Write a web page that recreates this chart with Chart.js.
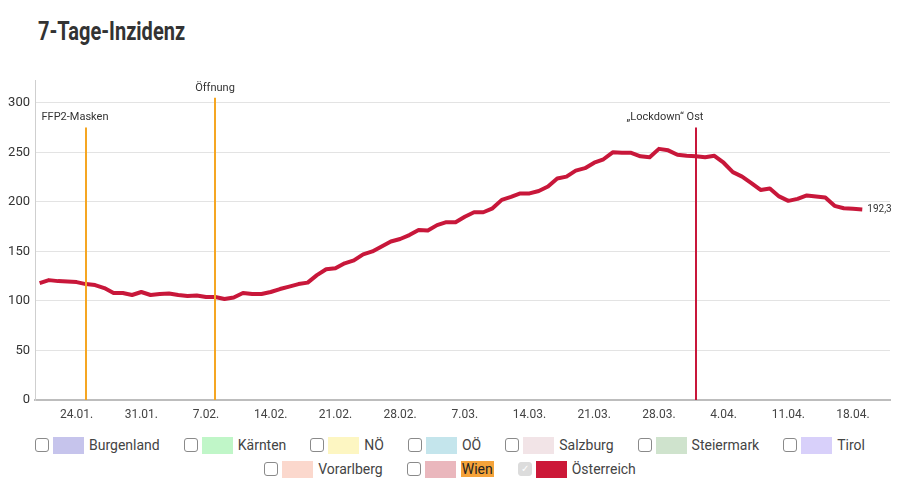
<!DOCTYPE html>
<html lang="de">
<head>
<meta charset="utf-8">
<title>7-Tage-Inzidenz</title>
<script src="https://cdn.jsdelivr.net/npm/chart.js@4/dist/chart.umd.min.js"></script>
<style>
  html, body {
    margin: 0;
    padding: 0;
    background: #ffffff;
    width: 900px;
    height: 487px;
    overflow: hidden;
    font-family: Roboto, "Noto Sans", sans-serif;
  }
  #title {
    position: absolute;
    left: 38px;
    top: 17px;
    margin: 0;
    font-family: Roboto, "Noto Sans", sans-serif;
    font-weight: 700;
    font-size: 25px;
    color: #333333;
    transform: scaleX(0.8);
    transform-origin: left center;
    white-space: nowrap;
  }
  #chart-box {
    position: absolute;
    left: 0;
    top: 0;
    width: 900px;
    height: 425px;
  }
  #legend {
    position: absolute;
    left: 0;
    top: 433px;
    width: 900px;
  }
  .legend-row {
    display: flex;
    justify-content: center;
    height: 24px;
    align-items: center;
  }
  .legend-item {
    display: flex;
    align-items: center;
    margin: 0 12px;
    font-size: 14px;
    color: #444444;
  }
  .check {
    width: 12px;
    height: 12px;
    border: 1px solid #8a8a8a;
    border-radius: 3px;
    margin-right: 4px;
    box-sizing: content-box;
    font-size: 10px;
    line-height: 12px;
    text-align: center;
    color: #ffffff;
  }
  .check.on {
    background: #dcdcdc;
    border-color: #dcdcdc;
  }
  .swatch {
    width: 31px;
    height: 17px;
    margin-right: 5px;
  }
  .hl {
    background: #f5a33a;
    color: #222222;
    padding: 0 1px;
  }
</style>
</head>
<body>
<h1 id="title">7-Tage-Inzidenz</h1>
<div id="chart-box"><canvas id="incidence-chart"></canvas></div>
<div id="legend"></div>
<script>
// Tage ab 20.01. (Index 0) bis 19.04. (Index 89)
const incidenceValues = [
  118, 121, 120, 119.5, 119, 117, 116, 113, 108, 108,
  106, 109, 106, 107, 107.5, 106, 105, 105.5, 104, 104,
  102, 103.5, 108, 107, 107, 109, 112, 114.5, 117, 118.5,
  126, 132, 133, 138, 141, 147, 150, 155, 160, 162.5,
  166.5, 171.5, 171, 176.5, 179.5, 179.5, 185, 189.5, 189.5, 193.5,
  202, 205, 208.5, 208.5, 211, 215.5, 223.5, 225.5, 231.5, 234,
  239.5, 243, 250, 249.5, 249.5, 246, 245, 253.5, 252, 247.5,
  246.5, 246, 245, 246.5, 239.5, 230, 225.5, 219, 212, 213.5,
  205.5, 201, 203, 206.5, 205.5, 204.5, 196, 193.5, 193, 192.3
];

const tickDays = [4, 11, 18, 25, 32, 39, 46, 53, 60, 67, 74, 81, 88];
const tickLabels = [
  "24.01.", "31.01.", "7.02.", "14.02.", "21.02.", "28.02.", "7.03.",
  "14.03.", "21.03.", "28.03.", "4.04.", "11.04.", "18.04."
];

const eventDays = [5, 19, 71];
const eventLabels = ["FFP2-Masken", "Öffnung", "„Lockdown“ Ost"];
const eventTops = [275, 305, 275];
const eventColors = ["#f5a623", "#f5a623", "#c8173a"];
const eventLabelShift = [-11, 0, -31];

const endLabel = "192,3";

const regionNames = [
  "Burgenland", "Kärnten", "NÖ", "OÖ", "Salzburg", "Steiermark", "Tirol",
  "Vorarlberg", "Wien", "Österreich"
];
const regionColors = [
  "#c6c4ec", "#c0f6c8", "#fdf6c2", "#c4e5ec", "#f2e4e7", "#cfe3cd", "#d8d0fa",
  "#fbd8cd", "#eab7bd", "#cc1838"
];

const LINE_COLOR = "#c8173a";
const TEXT_COLOR = "#444444";

function renderLegend() {
  const legendElement = document.getElementById("legend");
  const rows = [regionNames.slice(0, 7), regionNames.slice(7)];
  let index = 0;

  rows.forEach((names) => {
    const row = document.createElement("div");
    row.className = "legend-row";

    names.forEach((name) => {
      const active = name === "Österreich";
      const item = document.createElement("div");
      item.className = "legend-item";
      item.innerHTML =
        `<span class="check${active ? " on" : ""}">${active ? "✓" : ""}</span>` +
        `<span class="swatch" style="background:${regionColors[index]}"></span>` +
        `<span class="${name === "Wien" ? "hl" : ""}">${name}</span>`;
      row.appendChild(item);
      index += 1;
    });

    legendElement.appendChild(row);
  });
}

const eventLinesPlugin = {
  id: "eventLines",
  afterDatasetsDraw(chart) {
    const { ctx, scales } = chart;
    const bottom = scales.y.getPixelForValue(0);

    ctx.save();
    eventDays.forEach((day, i) => {
      const x = Math.round(scales.x.getPixelForValue(day));
      const top = scales.y.getPixelForValue(eventTops[i]);

      ctx.strokeStyle = eventColors[i];
      ctx.lineWidth = 2;
      ctx.beginPath();
      ctx.moveTo(x, top);
      ctx.lineTo(x, bottom);
      ctx.stroke();

      ctx.fillStyle = "#333333";
      ctx.font = "11px Roboto, 'Noto Sans', sans-serif";
      ctx.textAlign = "center";
      ctx.textBaseline = "middle";
      ctx.fillText(eventLabels[i], x + eventLabelShift[i], top - 10);
    });

    const lastIndex = incidenceValues.length - 1;
    const endX = scales.x.getPixelForValue(lastIndex);
    const endY = scales.y.getPixelForValue(incidenceValues[lastIndex]);
    ctx.fillStyle = "#333333";
    ctx.font = "10px Roboto, 'Noto Sans', sans-serif";
    ctx.textAlign = "left";
    ctx.textBaseline = "middle";
    ctx.fillText(endLabel, endX + 5, endY);
    ctx.restore();
  }
};

function createIncidenceChart() {
  const canvas = document.getElementById("incidence-chart");
  const points = incidenceValues.map((value, day) => ({ x: day, y: value }));

  return new Chart(canvas, {
    type: "line",
    data: {
      datasets: [
        {
          label: "Österreich",
          data: points,
          borderColor: LINE_COLOR,
          backgroundColor: LINE_COLOR,
          borderWidth: 4,
          pointRadius: 0,
          tension: 0,
          borderJoinStyle: "round"
        }
      ]
    },
    options: {
      responsive: true,
      maintainAspectRatio: false,
      animation: false,
      layout: {
        padding: { left: 0, right: 10, top: 80, bottom: 0 }
      },
      plugins: {
        legend: { display: false },
        tooltip: { enabled: false }
      },
      scales: {
        x: {
          type: "linear",
          min: -0.5,
          max: 92,
          afterBuildTicks(scale) {
            scale.ticks = tickDays.map((value) => ({ value }));
          },
          afterFit(scale) {
            scale.height = 25;
          },
          grid: { display: false },
          border: { color: "#bdbdbd", width: 2 },
          ticks: {
            autoSkip: false,
            maxRotation: 0,
            padding: 0,
            color: TEXT_COLOR,
            font: { size: 12, family: "Roboto, 'Noto Sans', sans-serif" },
            callback(value) {
              const index = tickDays.indexOf(value);
              return index >= 0 ? tickLabels[index] : "";
            }
          }
        },
        y: {
          min: 0,
          max: 323,
          afterBuildTicks(scale) {
            scale.ticks = scale.ticks.filter((tick) => tick.value % 50 === 0);
          },
          afterFit(scale) {
            scale.width = 35;
          },
          grid: {
            color: "#e3e3e3",
            drawTicks: false
          },
          border: { color: "#cfcfcf", width: 1 },
          ticks: {
            stepSize: 50,
            padding: 5,
            color: "#333333",
            font: { size: 13, family: "Roboto, 'Noto Sans', sans-serif" }
          }
        }
      }
    },
    plugins: [eventLinesPlugin]
  });
}

renderLegend();
createIncidenceChart();
</script>
</body>
</html>
